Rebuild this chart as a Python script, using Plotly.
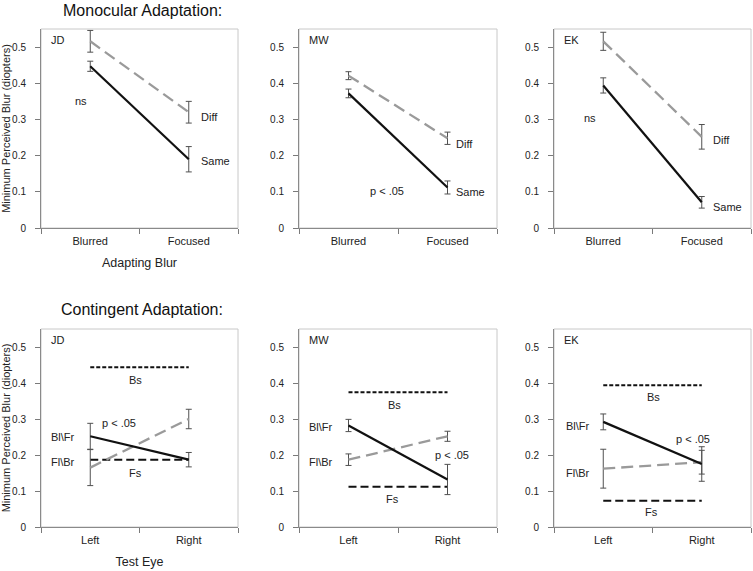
import plotly.graph_objects as go

subjects = ["JD", "MW", "EK"]
conditions = ["Blurred", "Focused"]
eyes = ["Left", "Right"]

# Monocular adaptation (top row)
mono_same = [[0.447, 0.190], [0.372, 0.112], [0.394, 0.071]]
mono_same_err = [[0.014, 0.035], [0.012, 0.018], [0.021, 0.016]]
mono_diff = [[0.516, 0.320], [0.421, 0.248], [0.516, 0.252]]
mono_diff_err = [[0.030, 0.030], [0.011, 0.017], [0.025, 0.034]]

# Contingent adaptation (bottom row)
cont_blfr = [[0.252, 0.187], [0.282, 0.132], [0.292, 0.175]]
cont_blfr_err = [[0.036, 0.020], [0.017, 0.042], [0.022, 0.048]]
cont_flbr = [[0.165, 0.300], [0.187, 0.252], [0.162, 0.180]]
cont_flbr_err = [[0.050, 0.027], [0.016, 0.014], [0.054, 0.033]]
cont_bs = [0.444, 0.374, 0.394]
cont_fs = [0.187, 0.112, 0.073]

# annotation positions (data units)
mono_sig = ["ns", "p < .05", "ns"]
mono_sig_pos = [(-0.09, 0.352), (0.39, 0.102), (-0.13, 0.304)]
mono_lbl_x = [1.105, 1.068, 1.09]
mono_diff_lbl_y = [0.308, 0.233, 0.243]
mono_same_lbl_y = [0.184, 0.099, 0.057]
cont_sig_pos = [(0.29, 0.289), (1.05, 0.200), (0.91, 0.245)]
cont_lbl_x = [-0.13, -0.136, -0.118]
cont_blfr_lbl_y = [0.250, 0.278, 0.280]
cont_flbr_lbl_y = [0.180, 0.180, 0.151]
cont_bs_lbl = [(0.46, 0.409), (0.465, 0.340), (0.51, 0.360)]
cont_fs_lbl = [(0.46, 0.150), (0.44, 0.077), (0.485, 0.043)]

W, H = 753, 571
x_px = [(41, 238), (299, 497), (554, 751)]
top_px = (29, 228)
bot_px = (329, 527)

FONT = "Liberation Sans, Arial, sans-serif"
BLACK = "#111111"
GRAY = "#9a9a9a"
ERR = "#505050"
TXT = "#222222"

fig = go.Figure()
annotations = []
shapes = []

def axis_name(i):
    return "" if i == 1 else str(i)

def txt(x, y, xa, ya, text, **kw):
    d = dict(x=x, y=y, xref=xa, yref=ya, text=text, showarrow=False,
             font=dict(size=11, color=TXT))
    d.update(kw)
    annotations.append(d)

for row in range(2):
    for col in range(3):
        idx = row * 3 + col + 1
        xa = "x" + axis_name(idx)
        ya = "y" + axis_name(idx)
        s = col
        cats = conditions if row == 0 else eyes
        if row == 0:
            fig.add_trace(go.Scatter(x=cats, y=mono_diff[s], mode="lines",
                                     line=dict(color=GRAY, width=2.3, dash="12px,6px"),
                                     error_y=dict(type="data", array=mono_diff_err[s], color=ERR, thickness=1, width=3),
                                     xaxis=xa, yaxis=ya, showlegend=False))
            fig.add_trace(go.Scatter(x=cats, y=mono_same[s], mode="lines",
                                     line=dict(color=BLACK, width=2.2),
                                     error_y=dict(type="data", array=mono_same_err[s], color=ERR, thickness=1, width=3),
                                     xaxis=xa, yaxis=ya, showlegend=False))
            sx, sy = mono_sig_pos[s]
            txt(sx, sy, xa, ya, mono_sig[s])
            txt(mono_lbl_x[s], mono_diff_lbl_y[s], xa, ya, "Diff", xanchor="left")
            txt(mono_lbl_x[s], mono_same_lbl_y[s], xa, ya, "Same", xanchor="left")
        else:
            fig.add_trace(go.Scatter(x=cats, y=[cont_bs[s]] * 2, mode="lines",
                                     line=dict(color=BLACK, width=2, dash="4px,2px"),
                                     xaxis=xa, yaxis=ya, showlegend=False, hoverinfo="skip"))
            fig.add_trace(go.Scatter(x=cats, y=[cont_fs[s]] * 2, mode="lines",
                                     line=dict(color=BLACK, width=2, dash="8px,4px"),
                                     xaxis=xa, yaxis=ya, showlegend=False, hoverinfo="skip"))
            fig.add_trace(go.Scatter(x=cats, y=cont_flbr[s], mode="lines",
                                     line=dict(color=GRAY, width=2.3, dash="12px,6px"),
                                     error_y=dict(type="data", array=cont_flbr_err[s], color=ERR, thickness=1, width=3),
                                     xaxis=xa, yaxis=ya, showlegend=False))
            fig.add_trace(go.Scatter(x=cats, y=cont_blfr[s], mode="lines",
                                     line=dict(color=BLACK, width=2.2),
                                     error_y=dict(type="data", array=cont_blfr_err[s], color=ERR, thickness=1, width=3),
                                     xaxis=xa, yaxis=ya, showlegend=False))
            sx, sy = cont_sig_pos[s]
            txt(sx, sy, xa, ya, "p < .05")
            txt(cont_lbl_x[s], cont_blfr_lbl_y[s], xa, ya, "Bl\\Fr", xanchor="right")
            txt(cont_lbl_x[s], cont_flbr_lbl_y[s], xa, ya, "Fl\\Br", xanchor="right")
            bx, by = cont_bs_lbl[s]
            txt(bx, by, xa, ya, "Bs")
            fx, fy = cont_fs_lbl[s]
            txt(fx, fy, xa, ya, "Fs")
        # subject label
        txt(0.04, 0.985, xa + " domain", ya + " domain", subjects[s], xanchor="left", yanchor="top")
        # frame
        shapes.append(dict(type="rect", xref=xa + " domain", yref=ya + " domain", x0=0, x1=1, y0=0, y1=1,
                           line=dict(color="#c8c8c8", width=1), layer="below"))

        x0, x1 = x_px[col]
        ypx = top_px if row == 0 else bot_px
        xdom = [x0 / W, x1 / W]
        ydom = [1 - ypx[1] / H, 1 - ypx[0] / H]
        xkey = "xaxis" + axis_name(idx)
        ykey = "yaxis" + axis_name(idx)
        xcfg = dict(domain=xdom, anchor="y" + axis_name(idx), automargin=False,
                    type="category", categoryorder="array", categoryarray=cats,
                    range=[-0.5, 1.5], tickson="boundaries", ticks="outside", ticklen=5,
                    ticklabelstandoff=3,
                    tickcolor="#7a7a7a", showline=True, linecolor="#8a8a8a", linewidth=1,
                    showgrid=False, zeroline=False, tickfont=dict(size=11, color=TXT),
                    fixedrange=True)
        if idx == 1:
            xcfg["title"] = dict(text="Adapting Blur", font=dict(size=12.5, color=TXT), standoff=12)
        elif idx == 4:
            xcfg["title"] = dict(text="Test Eye", font=dict(size=12.5, color=TXT), standoff=12)
        ycfg = dict(domain=ydom, anchor="x" + axis_name(idx), range=[0, 0.55], automargin=False,
                    tickvals=[0, 0.1, 0.2, 0.3, 0.4, 0.5], ticktext=["0", "0.1", "0.2", "0.3", "0.4", "0.5"],
                    ticks="outside", ticklen=5, ticklabelstandoff=7,
                    tickcolor="#7a7a7a", showline=True, linecolor="#8a8a8a",
                    linewidth=1, showgrid=False, zeroline=False, tickfont=dict(size=10, color=TXT),
                    fixedrange=True)
        if idx in (1, 4):
            ycfg["title"] = dict(text="Minimum Perceived Blur (diopters)", font=dict(size=11, color=TXT),
                                 standoff=2)
        fig.layout[xkey] = xcfg
        fig.layout[ykey] = ycfg

annotations.append(dict(x=142 / W, y=1 - 10 / H, xref="paper", yref="paper", text="Monocular Adaptation:",
                        xanchor="center", yanchor="middle",
                        showarrow=False, font=dict(size=16, color="#111")))
annotations.append(dict(x=142 / W, y=1 - 309 / H, xref="paper", yref="paper", text="Contingent Adaptation:",
                        xanchor="center", yanchor="middle",
                        showarrow=False, font=dict(size=16, color="#111")))

fig.update_layout(width=W, height=H, margin=dict(l=0, r=0, t=0, b=0),
                  paper_bgcolor="white", plot_bgcolor="white",
                  font=dict(family=FONT, color=TXT),
                  annotations=annotations, shapes=shapes)

fig.write_html("out.html", config={"displayModeBar": False},
               post_script="document.body.style.margin='0px';")
